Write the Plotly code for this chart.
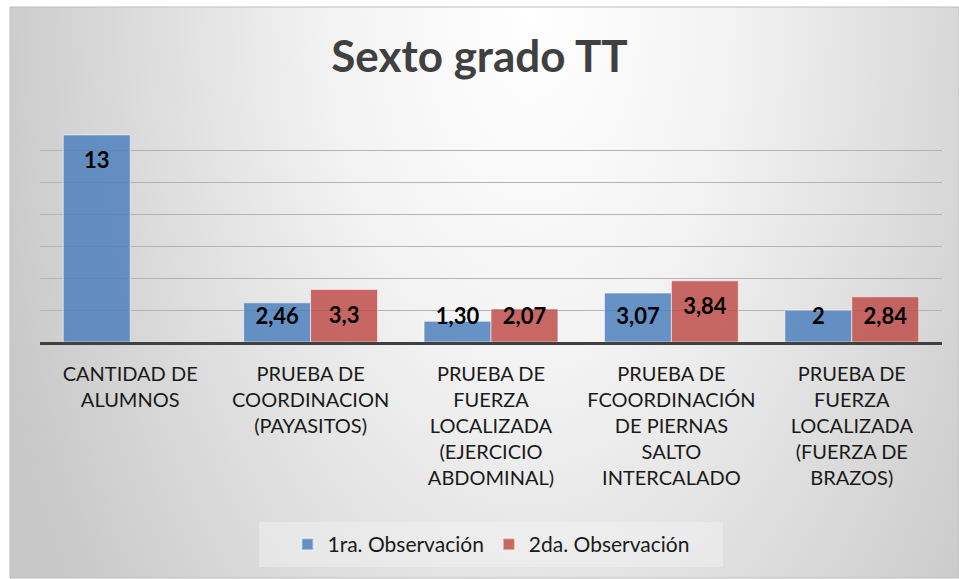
import base64
import plotly.graph_objects as go

# ---------------- data ----------------
categories = [
    "CANTIDAD DE<br>ALUMNOS",
    "PRUEBA DE<br>COORDINACION<br>(PAYASITOS)",
    "PRUEBA DE<br>FUERZA<br>LOCALIZADA<br>(EJERCICIO<br>ABDOMINAL)",
    "PRUEBA DE<br>FCOORDINACIÓN<br>DE PIERNAS<br>SALTO<br>INTERCALADO",
    "PRUEBA DE<br>FUERZA<br>LOCALIZADA<br>(FUERZA DE<br>BRAZOS)",
]
obs1 = [13, 2.46, 1.30, 3.07, 2]
obs2 = [None, 3.3, 2.07, 3.84, 2.84]
obs1_labels = ["13", "2,46", "1,30", "3,07", "2"]
obs2_labels = ["", "3,3", "2,07", "3,84", "2,84"]
series_names = ["1ra. Observación", "2da. Observación"]
title_text = "Sexto grado TT"

# ---------------- layout geometry ----------------
W, H = 959, 579
ML, MR, MT, MB = 40, 17, 119, 237
PW, PH = W - ML - MR, H - MT - MB


def pxx(px):
    return (px - ML) / PW


def pxy(py):
    return (H - MB - py) / PH


FONT = "Lato, 'Open Sans', sans-serif"
BAR_W = 0.371
xs = list(range(len(categories)))


def label_y(v):
    return None if v is None else max(v - 1.75, 1.5)


fig = go.Figure()
fig.add_trace(go.Bar(
    x=xs, y=obs1, name=series_names[0], width=BAR_W, offset=-BAR_W,
    marker=dict(color="rgba(79,129,189,0.86)",
                line=dict(color="rgba(255,255,255,0.55)", width=1)),
    hoverinfo="skip",
))
fig.add_trace(go.Bar(
    x=xs, y=obs2, name=series_names[1], width=BAR_W, offset=0,
    marker=dict(color="rgba(192,80,77,0.86)",
                line=dict(color="rgba(255,255,255,0.55)", width=1)),
    hoverinfo="skip",
))
fig.add_trace(go.Scatter(
    x=[x - BAR_W / 2 for x in xs], y=[label_y(v) for v in obs1],
    text=obs1_labels, mode="text", textposition="middle center",
    textfont=dict(family=FONT, size=22, color="#000000", weight="bold"),
    showlegend=False, hoverinfo="skip", cliponaxis=False,
))
fig.add_trace(go.Scatter(
    x=[x + BAR_W / 2 for x in xs], y=[label_y(v) for v in obs2],
    text=obs2_labels, mode="text", textposition="middle center",
    textfont=dict(family=FONT, size=22, color="#000000", weight="bold"),
    showlegend=False, hoverinfo="skip", cliponaxis=False,
))

# background gradient (chart area box)
bx0, by0, bx1, by1 = 10, 7, 959, 578
bw, bh = bx1 - bx0, by1 - by0
svg = f"""<svg xmlns='http://www.w3.org/2000/svg' width='{bw}' height='{bh}' viewBox='0 0 {bw} {bh}' preserveAspectRatio='none'>
<defs><radialGradient id='g' gradientUnits='userSpaceOnUse' cx='0' cy='0' r='560'
 gradientTransform='translate(520,0) scale(1,1.8)'>
<stop offset='0' stop-color='#ffffff'/><stop offset='0.35' stop-color='#f3f3f3'/>
<stop offset='1' stop-color='#c8c8c8'/></radialGradient></defs>
<rect x='0' y='0' width='{bw}' height='{bh}' fill='url(#g)'/></svg>"""
src = "data:image/svg+xml;base64," + base64.b64encode(svg.encode()).decode()

fig.update_layout(
    width=W, height=H,
    margin=dict(l=ML, r=MR, t=MT, b=MB, pad=0),
    paper_bgcolor="#ffffff",
    plot_bgcolor="rgba(0,0,0,0)",
    barmode="overlay",
    font=dict(family=FONT, color="#1a1a1a"),
    title=dict(text=title_text, x=pxx(491), xanchor="center",
               y=1 - 57 / H, yanchor="middle",
               font=dict(family=FONT, size=44, color="#404040", weight="bold")),
    xaxis=dict(range=[-0.5, 4.5], tickmode="array", tickvals=xs, ticktext=categories,
               showgrid=False, zeroline=False, showline=True, linecolor="#404040",
               linewidth=3, ticks="", ticklabelstandoff=12,
               tickfont=dict(family=FONT, size=20, color="#1a1a1a"),
               fixedrange=True),
    yaxis=dict(range=[0, 14], dtick=2, showgrid=True, gridcolor="#b3b3b3", gridwidth=1,
               zeroline=False, showticklabels=False, ticks="", fixedrange=True),
    legend=dict(orientation="h", x=pxx(491), xanchor="center", y=pxy(524), yanchor="top",
                bgcolor="rgba(0,0,0,0)", font=dict(family=FONT, size=21, color="#1a1a1a"),
                itemsizing="constant"),
    images=[dict(source=src, xref="paper", yref="paper",
                 x=pxx(bx0), y=pxy(by0), sizex=pxx(bx1) - pxx(bx0), sizey=pxy(by0) - pxy(by1),
                 xanchor="left", yanchor="top", sizing="stretch", layer="below")],
    shapes=[
        dict(type="rect", xref="paper", yref="paper", x0=pxx(bx0), x1=pxx(bx1),
             y0=pxy(by1), y1=pxy(by0), line=dict(color="#bdbdbd", width=1),
             fillcolor="rgba(0,0,0,0)", layer="below"),
        dict(type="rect", xref="paper", yref="paper", x0=pxx(259), x1=pxx(723),
             y0=pxy(567), y1=pxy(522), line=dict(width=0),
             fillcolor="rgba(245,245,245,0.45)", layer="below"),
    ],
)

fig.write_html("out.html", config={"displayModeBar": False},
               post_script="document.body.style.margin='0';")
